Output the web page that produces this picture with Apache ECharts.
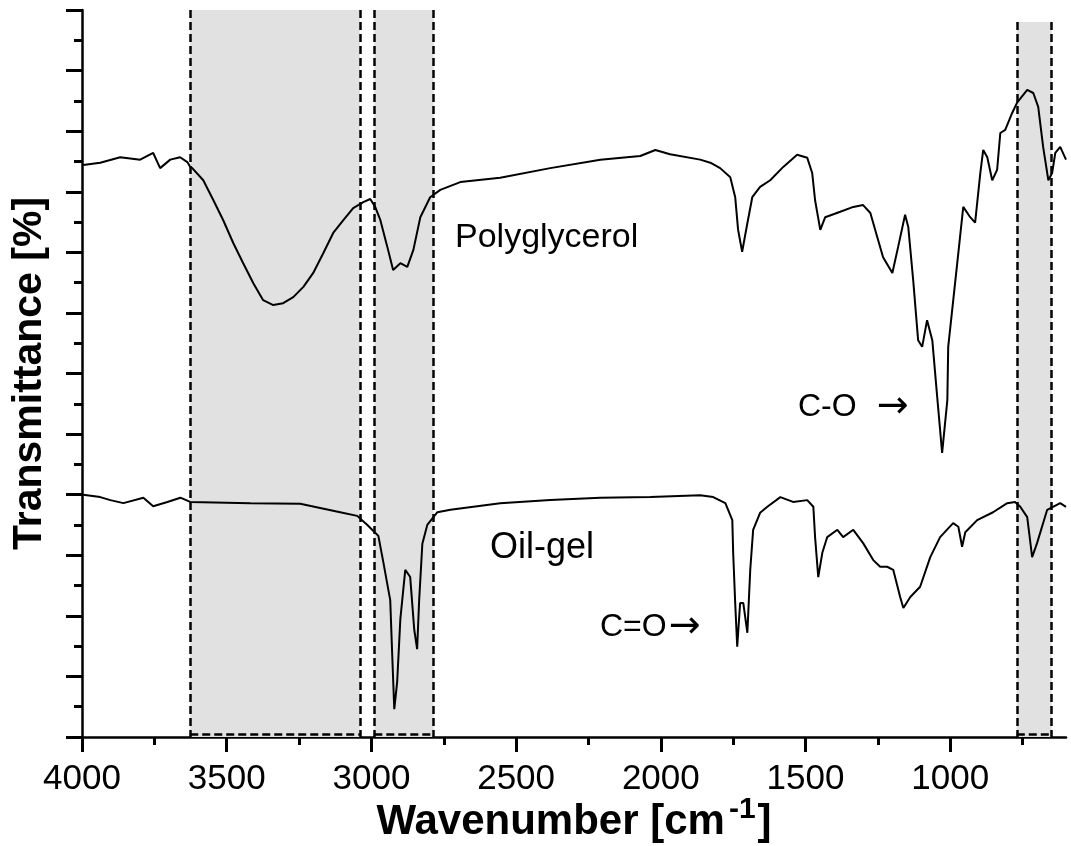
<!DOCTYPE html>
<html>
<head>
<meta charset="utf-8">
<script src="https://cdn.jsdelivr.net/npm/echarts@6/dist/echarts.min.js"></script>
<style>html,body{margin:0;padding:0;background:#fff}#c{width:1071px;height:846px}</style>
</head>
<body>
<div id="c"></div>
<script>
// ---- data (wavenumber cm-1, transmittance in arbitrary axis units) ----
const majorTicks = [4000, 3500, 3000, 2500, 2000, 1500, 1000];
const minorTicks = [3750, 3250, 2750, 2250, 1750, 1250, 750];
const polyglycerol = [
[3996,94.4],[3937,94.8],[3868,95.7],[3799,95.3],[3754,96.4],[3730,93.9],[3695,95.3],[3661,95.7],[3636,94.9],[3626,94.1],
[3619,93.9],[3581,91.9],[3546,88.6],[3512,85.3],[3477,81.5],[3443,78.2],[3408,74.9],[3374,72.1],[3339,71.3],[3305,71.6],
[3270,72.6],[3235,74.3],[3201,76.6],[3166,79.9],[3132,83.2],[3097,85.3],[3063,87.3],[3028,88.3],[3004,88.8],[2987,87.5],
[2969,85.3],[2945,80.9],[2925,77.1],[2900,78.2],[2876,77.6],[2855,80.4],[2831,85.8],[2797,89.1],[2762,90.3],[2693,91.6],
[2555,92.3],[2382,93.9],[2209,95.3],[2071,95.9],[2019,96.9],[1968,96.2],[1864,95.3],[1829,94.8],[1795,93.9],[1760,92.4],
[1743,89.1],[1733,83.7],[1719,80.1],[1701,84.8],[1684,89.1],[1657,90.8],[1622,91.9],[1577,94.1],[1529,96.1],[1494,95.6],
[1477,93.1],[1467,88.6],[1449,83.7],[1432,85.8],[1380,86.7],[1335,87.5],[1301,87.8],[1276,86.5],[1252,82.5],[1232,79.2],
[1200,76.6],[1180,80.9],[1156,86.2],[1145,84.2],[1128,75.4],[1111,65.5],[1097,64.4],[1080,68.8],[1062,65.5],[1045,56.1],
[1028,46.9],[1010,55.6],[1007,64.4],[972,79.9],[955,87.5],[931,85.8],[914,84.9],[896,93.1],[886,96.9],[872,95.7],
[855,91.9],[838,93.6],[827,99.7],[810,100.2],[786,103.0],[769,104.7],[734,106.8],[713,106.3],[696,104.0],[679,97.4],
[661,91.9],[648,93.1],[637,96.4],[620,97.4],[600,95.3]
];
const oilGel = [
[3996,40.0],[3937,39.6],[3902,39.1],[3857,38.6],[3788,39.5],[3754,38.1],[3705,38.8],[3660,39.5],[3626,38.8],[3418,38.6],
[3246,38.5],[3108,37.1],[3049,36.5],[3014,35.0],[2993,34.0],[2976,33.2],[2959,28.9],[2935,22.6],[2928,13.4],[2921,4.6],
[2911,9.1],[2900,19.5],[2883,27.6],[2866,26.4],[2852,17.7],[2842,14.5],[2835,22.6],[2824,31.9],[2807,35.0],[2772,37.1],
[2727,37.5],[2555,38.6],[2382,39.1],[2209,39.5],[2036,39.6],[1864,39.9],[1819,39.6],[1777,38.6],[1753,35.8],[1750,30.4],
[1743,22.1],[1736,14.9],[1726,22.1],[1715,22.1],[1701,17.2],[1691,27.6],[1681,34.2],[1657,37.0],[1632,38.0],[1587,39.6],
[1543,38.8],[1494,39.1],[1473,38.0],[1467,33.0],[1456,26.4],[1442,30.4],[1425,33.0],[1390,34.2],[1370,33.0],[1335,34.2],
[1301,32.0],[1266,29.2],[1242,28.1],[1218,28.1],[1197,27.6],[1173,23.1],[1162,21.3],[1138,23.1],[1104,24.8],[1069,29.7],
[1035,33.0],[990,35.3],[972,34.7],[959,31.4],[948,33.8],[907,35.8],[852,37.1],[803,38.6],[776,38.8],[758,38.0],
[734,36.3],[717,29.7],[700,32.0],[665,37.5],[620,38.6],[600,38.0]
];
// shaded bands: [from, to, top]
const bands = [[3626, 3040, 120], [2990, 2785, 120], [770, 650, 118]];
const labels = ['Polyglycerol', 'Oil-gel', 'C-O', 'C=O'];
const arrow = '\u2192';

const FONT = 'Liberation Sans, Arial, sans-serif';
const chart = echarts.init(document.getElementById('c'), null, {renderer: 'canvas'});

const areaData = bands.map(b => [{xAxis: b[0], yAxis: b[2]}, {xAxis: b[1], yAxis: 0}]);
const lineData = [];
bands.forEach(b => {
  lineData.push([{coord: [b[0], b[2]]}, {coord: [b[0], 0]}]);
  lineData.push([{coord: [b[1], b[2]]}, {coord: [b[1], 0]}]);
  lineData.push([{coord: [b[0], 0.5]}, {coord: [b[1], 0.5]}]);
});

const lineStyle = {color: '#000', width: 2};
const annRich = {
  t: {fontSize: 32, fontFamily: FONT, fill: '#000'},
  a: {fontSize: 38, fontFamily: 'DejaVu Sans', fill: '#000'}
};
chart.setOption({
  animation: false,
  backgroundColor: '#fff',
  grid: {left: 82, right: 5, top: 10, bottom: 109, containLabel: false, outerBoundsMode: 'none'},
  xAxis: [{
    type: 'value', min: 600, max: 4000, inverse: true,
    axisLine: {show: true, lineStyle: {color: '#000', width: 2.5}},
    axisTick: {show: true, inside: false, length: 15, customValues: majorTicks, lineStyle: {color: '#000', width: 3}},
    axisLabel: {show: true, customValues: majorTicks, fontSize: 35, color: '#000', fontFamily: FONT, margin: 25,
      formatter: v => String(v)},
    splitLine: {show: false},
    name: '{b|Wavenumber [cm}{s|-1}{b|]}',
    nameLocation: 'middle', nameGap: 58,
    nameMoveOverlap: false,
    nameTextStyle: {rich: {
      b: {fontSize: 42, fontWeight: 'bold', fontFamily: FONT, color: '#000'},
      s: {fontSize: 30, fontWeight: 'bold', fontFamily: FONT, color: '#000', padding: [0, 2, 24, 4]}
    }}
  }, {
    type: 'value', min: 600, max: 4000, inverse: true, position: 'bottom',
    axisLine: {show: false},
    axisTick: {show: true, inside: false, length: 8, customValues: minorTicks, lineStyle: {color: '#000', width: 3}},
    axisLabel: {show: false},
    splitLine: {show: false}
  }],
  yAxis: {
    type: 'value', min: 0, max: 120, interval: 10,
    axisLine: {show: true, lineStyle: {color: '#000', width: 2.5}},
    axisTick: {show: true, inside: false, length: 16, lineStyle: {color: '#000', width: 3}},
    minorTick: {show: true, splitNumber: 2, length: 8, lineStyle: {color: '#000', width: 3}},
    axisLabel: {show: false},
    splitLine: {show: false},
    name: 'Transmittance [%]', nameLocation: 'middle', nameRotate: 90, nameGap: 32,
    nameTextStyle: {fontSize: 41, fontWeight: 'bold', fontFamily: FONT, color: '#000'}
  },
  series: [{
    type: 'line', name: 'Polyglycerol', data: polyglycerol, showSymbol: false, symbol: 'none',
    lineStyle: lineStyle, clip: false, z: 5,
    markArea: {silent: true, itemStyle: {color: '#e1e1e1'}, data: areaData, z: 1},
    markLine: {silent: true, symbol: ['none', 'none'], label: {show: false},
      lineStyle: {color: '#000', width: 2.5, type: [8, 4]}, data: lineData}
  }, {
    type: 'line', name: 'Oil-gel', data: oilGel, showSymbol: false, symbol: 'none',
    lineStyle: lineStyle, clip: false, z: 5
  }],
  graphic: [
    {type: 'text', left: 455, top: 221, style: {text: labels[0], fontSize: 34, fontFamily: FONT, fill: '#000'}},
    {type: 'text', left: 490, top: 530, style: {text: labels[1], fontSize: 36, fontFamily: FONT, fill: '#000'}},
    {type: 'text', left: 798, top: 388, style: {
      text: '{t|' + labels[2] + '}{a|' + arrow + '}',
      rich: {t: annRich.t, a: Object.assign({padding: [0, 0, 0, 20]}, annRich.a)}}},
    {type: 'text', left: 600, top: 608, style: {
      text: '{t|' + labels[3] + '}{a|' + arrow + '}',
      rich: {t: annRich.t, a: Object.assign({padding: [0, 0, 0, 2]}, annRich.a)}}}
  ]
});
</script>
</body>
</html>
